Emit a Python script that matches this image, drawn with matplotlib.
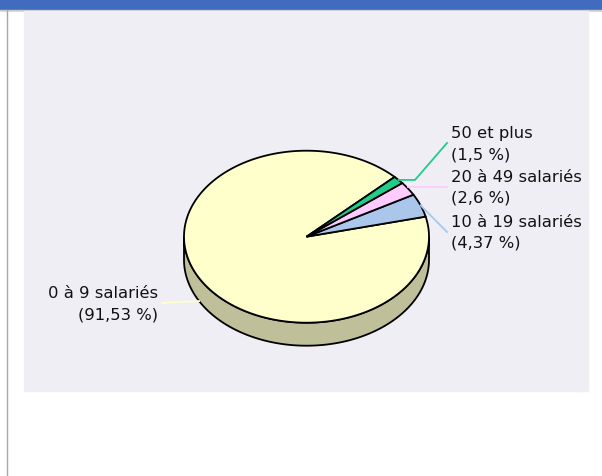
import numpy as np
import matplotlib
matplotlib.use("Agg")
import matplotlib.pyplot as plt
from matplotlib.patches import Polygon, Rectangle
from matplotlib.colors import to_rgb

# data
labels = ["0 à 9 salariés", "10 à 19 salariés", "20 à 49 salariés", "50 et plus"]
values = [91.53, 4.37, 2.6, 1.5]
colors = ["#FFFFCC", "#AAC6EA", "#FFCCFF", "#22CC8A"]

# pie geometry in pixels
cx, cy = 306.5, 236.7
rx, ry = 122.5, 86.0
depth = 23
start = 44.0

# label layout: (end point, elbow x or None, side)
layout = [
    ((162, 303), None, "left"),
    ((447, 232), None, "right"),
    ((447, 186.5), None, "right"),
    ((447, 143), (415, None), "right"),
]

fig = plt.figure(figsize=(6.02, 4.76), dpi=100)
ax = fig.add_axes([0, 0, 1, 1])
ax.set_xlim(0, 602)
ax.set_ylim(476, 0)
ax.axis("off")

# frame bits around the chart
ax.add_patch(Rectangle((0, 0), 602, 9.5, color="#416BBE", zorder=1))
ax.plot([0, 602], [10, 10], color="#C8C8C8", lw=1, zorder=1)
ax.plot([7, 7], [10, 476], color="#A8A8A8", lw=1, zorder=1)
ax.add_patch(Rectangle((24, 11), 564, 380, color="#EFEEF4", zorder=1))


def pt(t, dy=0):
    r = np.radians(t)
    return cx + rx * np.cos(r), cy - ry * np.sin(r) + dy


total = sum(values)
angles = [start]
for v in values:
    angles.append(angles[-1] + 360 * v / total)

# sides (front half only)
for i in range(len(values)):
    t = np.linspace(angles[i], angles[i + 1], 500)
    t = t[np.sin(np.radians(t)) <= 0]
    if len(t) < 2:
        continue
    x, y = pt(t)
    xb, yb = pt(t[::-1], depth)
    dark = tuple(c * 0.75 for c in to_rgb(colors[i]))
    poly = np.column_stack([np.r_[x, xb], np.r_[y, yb]])
    ax.add_patch(Polygon(poly, closed=True, facecolor=dark, edgecolor="black", lw=1.3, zorder=2))

# top faces
for i in range(len(values)):
    t = np.linspace(angles[i], angles[i + 1], 300)
    x, y = pt(t)
    poly = np.column_stack([np.r_[cx, x], np.r_[cy, y]])
    ax.add_patch(Polygon(poly, closed=True, facecolor=colors[i], edgecolor="black", lw=1.3,
                         joinstyle="miter", zorder=3))

# leader lines and labels
for i in range(len(values)):
    mid = (angles[i] + angles[i + 1]) / 2
    ax_, ay_ = pt(mid, depth if np.sin(np.radians(mid)) < 0 else 0)
    end, elbow, side = layout[i]
    xs, ys = [ax_], [ay_]
    if elbow is not None:
        xs.append(elbow[0])
        ys.append(ay_)
    xs.append(end[0])
    ys.append(end[1])
    if side == "right" and elbow is None and abs(end[1] - ay_) < 4:
        ys = [end[1]] * len(ys)
    ax.plot(xs, ys, color=colors[i], lw=1.3, zorder=4)
    pct = "({:g} %)".format(values[i]).replace(".", ",")
    if side == "right":
        tx, ha = end[0] + 4, "left"
    else:
        tx, ha = end[0] - 4, "right"
    ax.text(tx, end[1] - 5, labels[i], ha=ha, va="baseline", fontsize=11.8,
            color="#111111", zorder=5)
    ax.text(tx, end[1] + 16, pct, ha=ha, va="baseline", fontsize=11.8,
            color="#111111", zorder=5)

fig.savefig("out.png", dpi=100)
